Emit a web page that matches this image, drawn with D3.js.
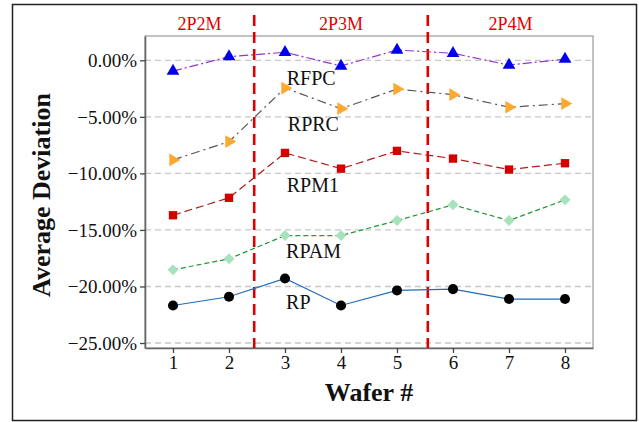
<!DOCTYPE html>
<html>
<head>
<meta charset="utf-8">
<script src="https://cdn.jsdelivr.net/npm/d3@7"></script>
<style>
  body { margin: 0; background: #fff; }
  svg text { font-family: "Liberation Serif", "DejaVu Serif", serif; }
</style>
</head>
<body>
<div id="chart"></div>
<script>
// wafer numbers on the x axis
var wafers = [1, 2, 3, 4, 5, 6, 7, 8];
// average deviation (%) per structure
var rfpc = [-0.95, 0.32, 0.71, -0.50, 0.91, 0.62, -0.42, 0.11];
var rprc = [-8.81, -7.19, -2.45, -4.28, -2.54, -3.04, -4.15, -3.83];
var rpm1 = [-13.70, -12.16, -8.19, -9.58, -8.01, -8.69, -9.66, -9.10];
var rpam = [-18.53, -17.55, -15.50, -15.50, -14.17, -12.78, -14.17, -12.34];
var rp = [-21.68, -20.91, -19.29, -21.68, -20.35, -20.23, -21.11, -21.11];
var seriesNames = ["RFPC", "RPRC", "RPM1", "RPAM", "RP"];
var yTicks = [0, -5, -10, -15, -20, -25];
// group separators and names
var groupBreaks = [2.45, 5.55];
var groupNames = ["2P2M", "2P3M", "2P4M"];
// where the series names sit (wafer, deviation)
var labelX = [3.03, 3.05, 3.03, 3.02, 3.02];
var labelY = [-2.18, -6.25, -11.61, -17.49, -22.0];

var svg = d3.select('#chart').append('svg')
  .attr('width', 639)
  .attr('height', 422);

var margin = {top: 36, right: 46, bottom: 74, left: 145};
var width = 639, height = 422;

var x = d3.scaleLinear()
  .domain([0.5, 8.5])
  .range([margin.left, width - margin.right]);

var y = d3.scaleLinear()
  .domain([-25.44, 2.15])
  .range([height - margin.bottom, margin.top]);

// outer frame
svg.append("rect")
  .attr("x", 12.5).attr("y", 4.5)
  .attr("width", 624).attr("height", 416)
  .attr("fill", "none")
  .attr("stroke", "#222")
  .attr("stroke-width", 1.5);

// plot frame
svg.append("rect")
  .attr("x", x.range()[0]).attr("y", y.range()[1])
  .attr("width", x.range()[1] - x.range()[0])
  .attr("height", y.range()[0] - y.range()[1])
  .attr("fill", "none")
  .attr("stroke", "#999")
  .attr("stroke-width", 1.2);

// grid
svg.append("g")
  .selectAll("line")
  .data(yTicks)
  .join("line")
  .attr("x1", x.range()[0]).attr("x2", x.range()[1])
  .attr("y1", d => y(d)).attr("y2", d => y(d))
  .attr("stroke", "#c8c8c8")
  .attr("stroke-width", 1.3)
  .attr("stroke-dasharray", "6,4");

var yAxis = g => g
  .attr("transform", `translate(${x.range()[0]},0)`)
  .call(d3.axisLeft(y).tickValues(yTicks).tickSize(5).tickSizeOuter(0)
    .tickFormat(d => d3.format(".2f")(d) + "%"))
  .call(g => g.select(".domain").attr("stroke", "#666").attr("stroke-width", 1.6))
  .call(g => g.selectAll(".tick line").attr("stroke", "#444").attr("stroke-width", 1.3))
  .call(g => g.selectAll(".tick text")
    .attr("font-size", "19px")
    .attr("fill", "#111")
    .attr("x", -8)
    .attr("dy", "0.33em"));

var xAxis = g => g
  .attr("transform", `translate(0,${y.range()[0]})`)
  .call(d3.axisBottom(x).tickValues(wafers).tickSize(5).tickSizeOuter(0))
  .call(g => g.select(".domain").attr("stroke", "#666").attr("stroke-width", 1.6))
  .call(g => g.selectAll(".tick line").attr("stroke", "#444").attr("stroke-width", 1.3))
  .call(g => g.selectAll(".tick text")
    .attr("font-size", "19px")
    .attr("fill", "#111")
    .attr("y", 8));

svg.append("g").call(yAxis);
svg.append("g").call(xAxis);

// group separators
svg.append("g")
  .selectAll("line")
  .data(groupBreaks)
  .join("line")
  .attr("x1", d => x(d)).attr("x2", d => x(d))
  .attr("y1", 15).attr("y2", y.range()[0])
  .attr("stroke", "#dd0000")
  .attr("stroke-width", 2.6)
  .attr("stroke-dasharray", "11,6");

var bounds = [x.domain()[0]].concat(groupBreaks, [x.domain()[1]]);
svg.append("g")
  .selectAll("text")
  .data(groupNames)
  .join("text")
  .attr("x", (d, i) => (x(bounds[i]) + x(bounds[i + 1])) / 2)
  .attr("y", 29.5)
  .attr("text-anchor", "middle")
  .attr("fill", "#dd0000")
  .attr("font-size", "18px")
  .text(d => d);

var series = [
  {name: seriesNames[0], values: rfpc, line: "#9933cc", dash: "9,3,2,3", fill: "#0000ee", shape: d3.symbolTriangle, rot: 0, size: 70},
  {name: seriesNames[1], values: rprc, line: "#555555", dash: "9,4,2,4", fill: "#ffa830", shape: d3.symbolTriangle, rot: 90, size: 70},
  {name: seriesNames[2], values: rpm1, line: "#b01c1c", dash: "8,4", fill: "#d40000", shape: d3.symbolSquare, rot: 0, size: 70},
  {name: seriesNames[3], values: rpam, line: "#1e9638", dash: "5,3", fill: "#a6e3bd", shape: d3.symbolSquare, rot: 45, size: 60},
  {name: seriesNames[4], values: rp, line: "#1f6cbd", dash: null, fill: "#000000", shape: d3.symbolCircle, rot: 0, size: 80}
];

var line = d3.line()
  .x((d, i) => x(wafers[i]))
  .y(d => y(d));

series.forEach(function (s) {
  svg.append("path")
    .datum(s.values)
    .attr("fill", "none")
    .attr("stroke", s.line)
    .attr("stroke-width", 1.2)
    .attr("stroke-dasharray", s.dash)
    .attr("d", line);

  svg.append("g")
    .selectAll("path")
    .data(s.values)
    .join("path")
    .attr("transform", (d, i) => `translate(${x(wafers[i])},${y(d)}) rotate(${s.rot})`)
    .attr("fill", s.fill)
    .attr("d", d3.symbol().type(s.shape).size(s.size));
});

// series names
svg.append("g")
  .selectAll("text")
  .data(seriesNames)
  .join("text")
  .attr("x", (d, i) => x(labelX[i]))
  .attr("y", (d, i) => y(labelY[i]))
  .attr("fill", "#111")
  .attr("font-size", "20px")
  .text(d => d);

// axis titles
svg.append("text")
  .attr("transform", `translate(50,${195}) rotate(-90)`)
  .attr("text-anchor", "middle")
  .attr("font-weight", "bold")
  .attr("font-size", "26px")
  .attr("fill", "#111")
  .text("Average Deviation");

svg.append("text")
  .attr("x", 369)
  .attr("y", 401)
  .attr("text-anchor", "middle")
  .attr("font-weight", "bold")
  .attr("font-size", "26px")
  .attr("fill", "#111")
  .text("Wafer #");
</script>
</body>
</html>
